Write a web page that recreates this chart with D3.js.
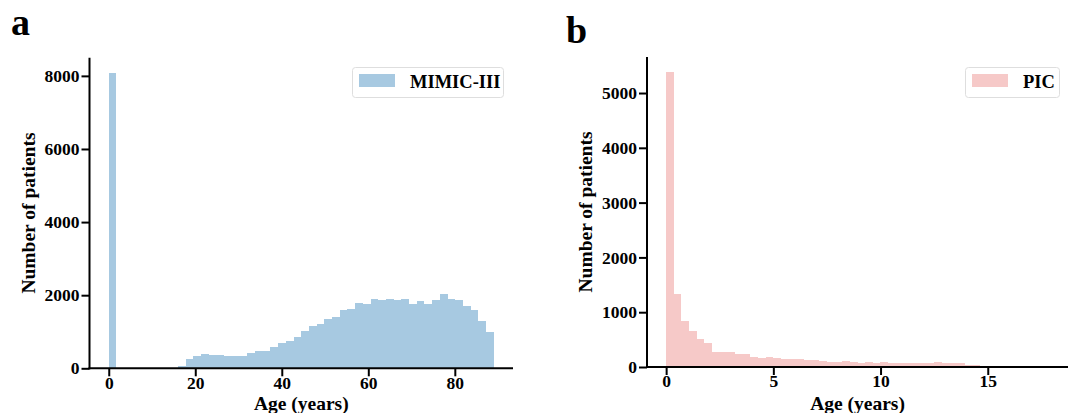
<!DOCTYPE html>
<html>
<head>
<meta charset="utf-8">
<script src="https://cdn.jsdelivr.net/npm/d3@7"></script>
<style>
  html, body { margin: 0; padding: 0; background: #fff; }
  svg { display: block; }
  text { font-family: "Liberation Serif", "Times New Roman", serif; font-weight: bold; fill: #000; }
</style>
</head>
<body>
<svg id="chart" width="1072" height="413"></svg>
<script>
// ---------- DATA ----------
// MIMIC-III: 50-bin histogram of age (years), bins spanning 0..89
const mimicRange = [0, 89];
const mimicCounts = [
  8090, 0, 0, 0, 0, 0, 0, 0, 0, 60,
  256, 338, 393, 365, 365, 338, 338, 338, 420, 475,
  475, 584, 694, 749, 858, 1023, 1160, 1215, 1352, 1406,
  1598, 1626, 1790, 1763, 1900, 1872, 1900, 1872, 1900, 1763,
  1845, 1763, 1872, 2037, 1900, 1872, 1708, 1598, 1297, 995
];
const mimicXTicks = [0, 20, 40, 60, 80];
const mimicYTicks = [0, 2000, 4000, 6000, 8000];

// PIC: 50-bin histogram of age (years), bins spanning 0..17.85
const picRange = [0, 17.85];
const picCounts = [
  5388, 1333, 840, 657, 511, 438, 274, 274, 274, 237,
  237, 183, 164, 183, 164, 146, 146, 146, 128, 128,
  110, 91, 91, 110, 91, 73, 91, 73, 91, 73,
  73, 73, 73, 73, 73, 91, 73, 73, 73, 37,
  37, 8, 6, 5, 4, 4, 3, 3, 2, 2
];
const picXTicks = [0, 5, 10, 15];
const picYTicks = [0, 1000, 2000, 3000, 4000, 5000];

const panelLabels = ["a", "b"];
const legendLabels = ["MIMIC-III", "PIC"];
const xTitle = "Age (years)";
const yTitle = "Number of patients";

// ---------- LAYOUT ----------
const svg = d3.select("#chart");
const colors = ["#a7c9e1", "#f6c9c8"];

const panels = [
  { range: mimicRange, counts: mimicCounts, xt: mimicXTicks, yt: mimicYTicks,
    px: [89.5, 513], py: [368.3, 57.8], color: colors[0], label: panelLabels[0], legend: legendLabels[0],
    labelPos: [11, 34.5], ylabX: 35, legBox: [352.5, 67.5, 151, 30] },
  { range: picRange, counts: picCounts, xt: picXTicks, yt: picYTicks,
    px: [647, 1068], py: [367, 57], color: colors[1], label: panelLabels[1], legend: legendLabels[1],
    labelPos: [566, 42.5], ylabX: 592, legBox: [965.5, 67.5, 94, 30] }
];

panels.forEach(p => {
  const n = p.counts.length;
  const w = (p.range[1] - p.range[0]) / n;
  const bins = p.counts.map((c, i) => ({ x0: p.range[0] + i * w, x1: p.range[0] + (i + 1) * w, c }));
  const span = p.range[1] - p.range[0];
  const x = d3.scaleLinear().domain([p.range[0] - 0.05 * span, p.range[1] + 0.05 * span]).range(p.px);
  const ymax = d3.max(p.counts) * 1.05;
  const y = d3.scaleLinear().domain([0, ymax]).range(p.py);

  const g = svg.append("g");

  // bars
  g.append("g").selectAll("rect").data(bins).join("rect")
    .attr("x", d => x(d.x0))
    .attr("width", d => x(d.x1) - x(d.x0))
    .attr("y", d => y(d.c))
    .attr("height", d => y(0) - y(d.c))
    .attr("fill", p.color)
    .attr("shape-rendering", "crispEdges");

  // axes
  const xa = g.append("g").attr("transform", `translate(0,${p.py[0]})`)
    .call(d3.axisBottom(x).tickValues(p.xt).tickSizeOuter(0).tickSize(8).tickPadding(0).tickFormat(d3.format("d")));
  const ya = g.append("g").attr("transform", `translate(${p.px[0]},0)`)
    .call(d3.axisLeft(y).tickValues(p.yt).tickSizeOuter(0).tickSize(8).tickPadding(2).tickFormat(d3.format("d")));
  [xa, ya].forEach(a => {
    a.select(".domain").attr("stroke", "#000").attr("stroke-width", 2);
    a.selectAll(".tick line").attr("stroke", "#000").attr("stroke-width", 2);
    a.selectAll(".tick text").style("font-size", "17.5px").style("font-family", "'Liberation Serif', 'Times New Roman', serif").style("font-weight", "bold").attr("fill", "#000");
  });
  // extend x-axis domain leftwards to meet the y spine
  xa.select(".domain").attr("d", `M${p.px[0] - 1},0H${p.px[1]}`);
  ya.select(".domain").attr("d", `M0,${p.py[1]}V${p.py[0] + 1}`);

  // axis titles
  g.append("text").attr("x", (p.px[0] + p.px[1]) / 2).attr("y", 409.5)
    .attr("text-anchor", "middle").style("font-size", "19.5px").text(xTitle);
  g.append("text")
    .attr("transform", `translate(${p.ylabX},${(p.py[0] + p.py[1]) / 2}) rotate(-90)`)
    .attr("text-anchor", "middle").style("font-size", "19.5px").text(yTitle);

  // panel label
  g.append("text").attr("x", p.labelPos[0]).attr("y", p.labelPos[1])
    .style("font-size", "38px").text(p.label);

  // legend
  const lb = p.legBox;
  const lg = g.append("g");
  lg.append("rect").attr("x", lb[0]).attr("y", lb[1]).attr("width", lb[2]).attr("height", lb[3])
    .attr("rx", 3).attr("fill", "#fff").attr("stroke", "#dedede").attr("stroke-width", 1);
  lg.append("rect").attr("x", lb[0] + 6.5).attr("y", lb[1] + 6.5).attr("width", 36).attr("height", 13)
    .attr("fill", p.color);
  lg.append("text").attr("x", lb[0] + 57.5).attr("y", lb[1] + 20)
    .style("font-size", "18.5px").text(p.legend);
});
</script>
</body>
</html>
